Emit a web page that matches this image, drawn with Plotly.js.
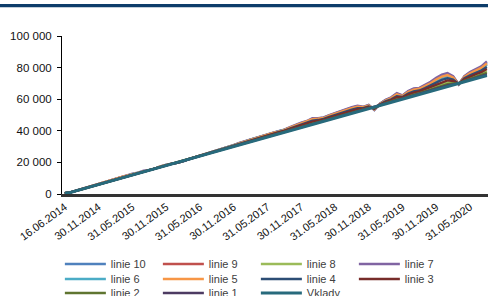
<!DOCTYPE html>
<html>
<head>
<meta charset="utf-8">
<script src="https://cdn.plot.ly/plotly-3.0.1.min.js"></script>
<style>
html,body{margin:0;padding:0;background:#fff;}
#chart{width:488px;height:296px;}
</style>
</head>
<body>
<div id="chart"></div>
<script>
// Dates (categories)
var dates = ["16.06.2014","30.06.2014","31.07.2014","31.08.2014","30.09.2014","31.10.2014","30.11.2014","31.12.2014",
"31.01.2015","28.02.2015","31.03.2015","30.04.2015","31.05.2015","30.06.2015","31.07.2015","31.08.2015","30.09.2015","31.10.2015","30.11.2015","31.12.2015",
"31.01.2016","29.02.2016","31.03.2016","30.04.2016","31.05.2016","30.06.2016","31.07.2016","31.08.2016","30.09.2016","31.10.2016","30.11.2016","31.12.2016",
"31.01.2017","28.02.2017","31.03.2017","30.04.2017","31.05.2017","30.06.2017","31.07.2017","31.08.2017","30.09.2017","31.10.2017","30.11.2017","31.12.2017",
"31.01.2018","28.02.2018","31.03.2018","30.04.2018","31.05.2018","30.06.2018","31.07.2018","31.08.2018","30.09.2018","31.10.2018","30.11.2018","31.12.2018",
"31.01.2019","28.02.2019","31.03.2019","30.04.2019","31.05.2019","30.06.2019","31.07.2019","31.08.2019","30.09.2019","31.10.2019","30.11.2019","31.12.2019",
"31.01.2020","29.02.2020","31.03.2020","30.04.2020","31.05.2020","30.06.2020","31.07.2020","31.08.2020"];

var tickLabels = ["16.06.2014","30.11.2014","31.05.2015","30.11.2015","31.05.2016","30.11.2016","31.05.2017","30.11.2017","31.05.2018","30.11.2018","31.05.2019","30.11.2019","31.05.2020"];

var linie10 = [500,1000,2100,3100,4100,5200,6300,7300,8400,9600,10600,11600,12700,13500,14600,15300,16100,17500,18500,19200,19700,20600,22100,23200,24400,25100,26500,27600,28600,29500,30800,32200,33300,34700,35700,36800,37900,38700,39700,40600,42100,43600,44900,45900,47700,47800,48300,49800,51100,52000,53400,54700,55500,55000,56200,53300,57100,59400,60900,63400,62200,64900,66400,66900,68600,70500,73000,74900,75900,74200,69400,74300,76800,78700,80300,83300];
var linie9 = [500,1000,2100,3100,4100,5200,6200,7200,8300,9500,10600,11500,12600,13400,14600,15200,16100,17400,18400,19200,19800,20700,22100,23200,24300,25100,26400,27500,28500,29400,30700,32000,33100,34400,35500,36600,37700,38500,39400,40400,41800,43200,44500,45600,47200,47400,48000,49400,50700,51600,53000,54200,55000,54800,55900,53600,57000,59100,60600,62800,61900,64400,65800,66400,68000,69800,72100,73900,74900,73500,69500,73900,76200,78000,79400,82200];
var linie8 = [500,1000,2000,3000,4000,5100,6100,7100,8100,9200,10200,11200,12200,13200,14200,15100,16000,17200,18200,19100,19900,20900,22000,23100,24100,25000,26200,27200,28200,29200,30300,31400,32400,33500,34600,35600,36600,37600,38500,39500,40700,41800,42900,44000,45200,45900,46800,47900,49000,50000,51100,52200,53100,53700,54700,54500,56400,57800,59000,60400,60700,62300,63400,64300,65500,66800,68300,69600,70600,70700,69800,72100,73600,74900,76000,77700];
var linie7 = [500,1000,2100,3100,4100,5200,6300,7300,8400,9600,10700,11600,12800,13500,14700,15300,16100,17500,18500,19200,19700,20600,22100,23200,24400,25100,26500,27600,28600,29500,30900,32300,33400,34800,35900,37000,38100,38900,39800,40700,42300,43800,45100,46200,48000,48000,48500,50000,51400,52300,53700,55000,55800,55200,56400,53200,57200,59600,61200,63800,62400,65200,66800,67200,69000,71000,73600,75600,76600,74600,69400,74600,77200,79200,80800,84000];
var linie6 = [500,1000,2100,3100,4100,5200,6200,7200,8300,9500,10500,11500,12600,13400,14500,15200,16100,17400,18400,19200,19800,20700,22100,23200,24300,25100,26400,27500,28500,29400,30700,32000,33100,34400,35400,36500,37600,38400,39400,40300,41700,43100,44300,45400,47000,47300,47900,49300,50600,51500,52800,54000,54900,54700,55800,53600,56900,59000,60400,62600,61800,64200,65600,66200,67800,69500,71700,73500,74500,73200,69500,73700,75900,77700,79100,81800];
var linie5 = [500,1000,2100,3100,4100,5200,6300,7300,8300,9500,10600,11500,12700,13400,14600,15300,16100,17400,18400,19200,19700,20700,22100,23200,24300,25100,26400,27500,28500,29400,30800,32100,33200,34500,35600,36700,37800,38600,39500,40400,42000,43400,44600,45700,47400,47600,48100,49600,50900,51800,53100,54400,55200,54900,56000,53500,57000,59200,60700,63100,62000,64600,66100,66600,68300,70100,72500,74300,75300,73800,69500,74100,76400,78300,79800,82700];
var linie4 = [500,1000,2100,3100,4100,5100,6200,7200,8200,9400,10400,11400,12500,13300,14400,15200,16100,17300,18300,19100,19800,20800,22100,23100,24200,25100,26300,27400,28400,29300,30500,31800,32800,34100,35100,36200,37300,38100,39100,40000,41400,42700,43900,44900,46400,46800,47500,48800,50000,51000,52200,53400,54300,54300,55400,53900,56700,58600,59900,61900,61400,63500,64900,65500,67000,68600,70600,72200,73200,72400,69600,73200,75100,76700,78100,80400];
var linie3 = [500,1000,2000,3000,4000,5100,6100,7100,8200,9300,10300,11300,12400,13200,14300,15100,16000,17200,18200,19100,19900,20800,22000,23100,24200,25000,26200,27300,28300,29200,30400,31600,32600,33800,34900,35900,36900,37900,38800,39800,41000,42300,43400,44400,45800,46400,47100,48400,49500,50500,51700,52800,53700,54000,55100,54200,56500,58200,59400,61200,61100,62900,64200,64900,66300,67700,69400,70900,71900,71500,69700,72600,74300,75800,77100,79100];
var linie2 = [500,1000,2000,3000,4000,5000,6100,7100,8100,9100,10100,11100,12100,13100,14100,15100,16000,17100,18100,19000,19900,20900,22000,23000,24100,25000,26100,27100,28100,29100,30200,31200,32300,33300,34300,35400,36400,37300,38300,39300,40400,41500,42600,43600,44700,45500,46500,47500,48600,49600,50700,51700,52700,53400,54400,54700,56200,57500,58600,59900,60400,61800,62900,63800,64900,66100,67400,68500,69500,70000,69900,71600,72900,74100,75200,76600];
var linie1 = [500,1000,2000,3000,4000,5000,6000,7000,8000,9000,10100,11000,12100,13000,14100,15000,16000,17000,18000,19000,20000,21000,22000,23000,24000,25000,26000,27000,28000,29000,30100,31100,32100,33100,34200,35200,36200,37200,38100,39100,40200,41200,42200,43300,44300,45200,46200,47200,48300,49300,50300,51300,52300,53200,54200,54900,56100,57200,58300,59400,60200,61300,62400,63300,64400,65500,66600,67700,68700,69400,70000,71300,72400,73500,74500,75700];
var vklady = [500,1000,2000,3000,4000,5000,6000,7000,8000,9000,10000,11000,12000,13000,14000,15000,16000,17000,18000,19000,20000,21000,22000,23000,24000,25000,26000,27000,28000,29000,30000,31000,32000,33000,34000,35000,36000,37000,38000,39000,40000,41000,42000,43000,44000,45000,46000,47000,48000,49000,50000,51000,52000,53000,54000,55000,56000,57000,58000,59000,60000,61000,62000,63000,64000,65000,66000,67000,68000,69000,70000,71000,72000,73000,74000,75000];

var seriesNames = ["linie 10","linie 9","linie 8","linie 7","linie 6","linie 5","linie 4","linie 3","linie 2","linie 1","Vklady"];
var seriesData = [linie10, linie9, linie8, linie7, linie6, linie5, linie4, linie3, linie2, linie1, vklady];
var seriesColors = ["#4F81BD","#C0504D","#9BBB59","#8064A2","#4BACC6","#F79646","#2C4D75","#772C2A","#5F7530","#4D3B62","#276A7C"];
var legendRow = ["legend","legend","legend","legend","legend2","legend2","legend2","legend2","legend3","legend3","legend3"];

var FONT = "Liberation Sans, Arial, sans-serif";

var traces = seriesNames.map(function(n, k){
  return {
    type: 'scatter', mode: 'lines', name: n,
    x: dates, y: seriesData[k],
    line: {color: seriesColors[k], width: (k === 10 ? 3 : 2.4)},
    legend: legendRow[k],
    hoverinfo: 'skip'
  };
});

function legendCfg(yc){
  return {
    orientation: 'h', x: -0.005, xanchor: 'left', y: yc, yanchor: 'middle',
    entrywidth: 42, entrywidthmode: 'pixels', itemwidth: 41,
    font: {family: FONT, size: 11, color: '#404040'},
    bgcolor: 'rgba(0,0,0,0)', borderwidth: 0, traceorder: 'normal'
  };
}

var layout = {
  width: 488, height: 296,
  margin: {l: 62, r: 0, t: 36, b: 102, autoexpand: false},
  paper_bgcolor: '#ffffff', plot_bgcolor: '#ffffff',
  separators: ', ',
  font: {family: FONT, size: 11, color: '#000'},
  showlegend: true,
  legend: legendCfg(-0.443),
  legend2: legendCfg(-0.538),
  legend3: legendCfg(-0.627),
  xaxis: {
    type: 'category', range: [-0.5, 75.2],
    tickmode: 'array', tickvals: tickLabels, ticktext: tickLabels,
    tickangle: -36, ticks: '', showgrid: false, zeroline: false,
    showline: true, linecolor: '#333333', linewidth: 2.5,
    tickfont: {family: FONT, size: 11, color: '#111'}
  },
  yaxis: {
    range: [0, 100000], dtick: 20000, tick0: 0, tickformat: ',d',
    ticks: 'outside', ticklen: 4, tickcolor: '#000', tickwidth: 1,
    ticklabelstandoff: 3,
    showgrid: false, zeroline: false,
    showline: true, linecolor: '#000', linewidth: 1,
    tickfont: {family: FONT, size: 11.5, color: '#111'}
  },
  shapes: [{
    type: 'rect', xref: 'paper', yref: 'paper',
    x0: -0.1456, x1: 1.0, y0: 1.1816, y1: 1.2025,
    fillcolor: '#0d3d6a', line: {width: 0}, layer: 'above'
  }]
};

Plotly.newPlot('chart', traces, layout, {staticPlot: true, displayModeBar: false});
</script>
</body>
</html>
